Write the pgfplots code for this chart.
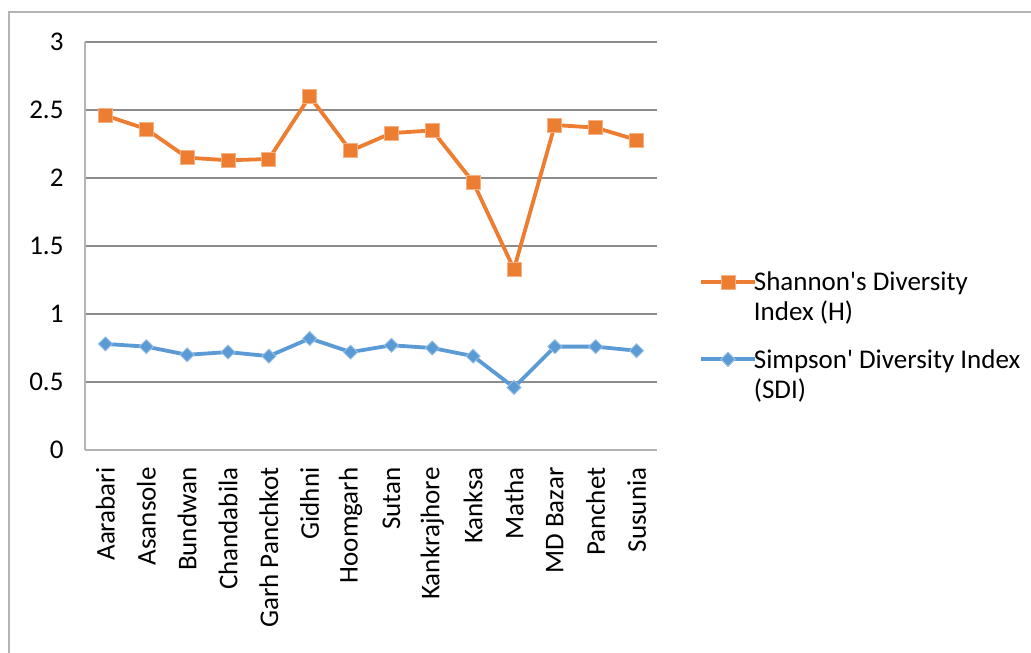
\documentclass[border=0pt]{standalone}
\usepackage{pgfplots}
\pgfplotsset{compat=1.18}
\usepackage{fontspec}
\setmainfont{Carlito}
\definecolor{sorange}{HTML}{ED7D31}
\definecolor{sblue}{HTML}{5B9BD5}
\definecolor{gridgray}{HTML}{8C8C8C}
\definecolor{bordergray}{HTML}{B4B4B4}
\pgfplotstableread{
x H SDI
0 2.46 0.78
1 2.36 0.76
2 2.15 0.70
3 2.13 0.72
4 2.14 0.69
5 2.60 0.82
6 2.20 0.72
7 2.33 0.77
8 2.35 0.75
9 1.97 0.69
10 1.33 0.46
11 2.39 0.76
12 2.37 0.76
13 2.28 0.73
}\datatable
\begin{document}
\begin{tikzpicture}[x=1pt,y=1pt]
\useasboundingbox (0,0) rectangle (1031,653);
\fill[white] (0,0) rectangle (1031,653);
\draw[bordergray, line width=1.5pt] (9,-10) rectangle (1045,641);
\begin{axis}[
  at={(85pt,203pt)}, anchor=south west,
  scale only axis, width=572pt, height=408pt,
  font=\fontsize{27}{30}\selectfont,
  tick label style={font=\fontsize{27}{30}\selectfont},
  /pgf/number format/assume math mode=true,
  xmin=-0.5, xmax=13.5, ymin=0, ymax=3,
  ytick={0,0.5,1,1.5,2,2.5,3},
  yticklabels={0,0.5,1,1.5,2,2.5,3},
  xtick={0,...,13},
  xticklabels={Aarabari,Asansole,Bundwan,Chandabila,Garh Panchkot,Gidhni,Hoomgarh,Sutan,Kankrajhore,Kanksa,Matha,MD Bazar,Panchet,Susunia},
  x tick label style={rotate=90, anchor=east},
  xticklabel shift=14pt,
  yticklabel shift=18pt,
  major tick length=0pt,
  ymajorgrids,
  grid style={gridgray, line width=1.3pt},
  axis x line*=bottom, axis y line*=left,
  axis line style={-, draw=bordergray, line width=1.5pt},
  legend style={at={(1.068,0.28)}, anchor=west, draw=none, fill=none,
    font=\fontsize{27}{30}\selectfont, row sep=23pt, column sep=-5pt,
    cells={anchor=west, align=left, inner sep=2pt}},
  legend cell align=left,
  legend image code/.code={%
    \draw[#1, mark repeat=2, mark phase=2] plot coordinates {(0pt,15pt)(27pt,15pt)(54pt,15pt)};},
]
\addplot[sorange, line width=3.8pt, mark=square*, mark size=7pt, mark options={fill=sorange, draw=sorange!60, line width=0.8pt}] table[x=x,y=H]{\datatable};
\addlegendentry{Shannon\textquotesingle s Diversity\\Index (H)}
\addplot[sblue, line width=3.8pt, mark=square*, mark size=5pt, mark options={rotate=45, fill=sblue, draw=sblue!60, line width=0.8pt}] table[x=x,y=SDI]{\datatable};
\addlegendentry{Simpson\textquotesingle\ Diversity Index\\(SDI)}
\end{axis}
\end{tikzpicture}
\end{document}
